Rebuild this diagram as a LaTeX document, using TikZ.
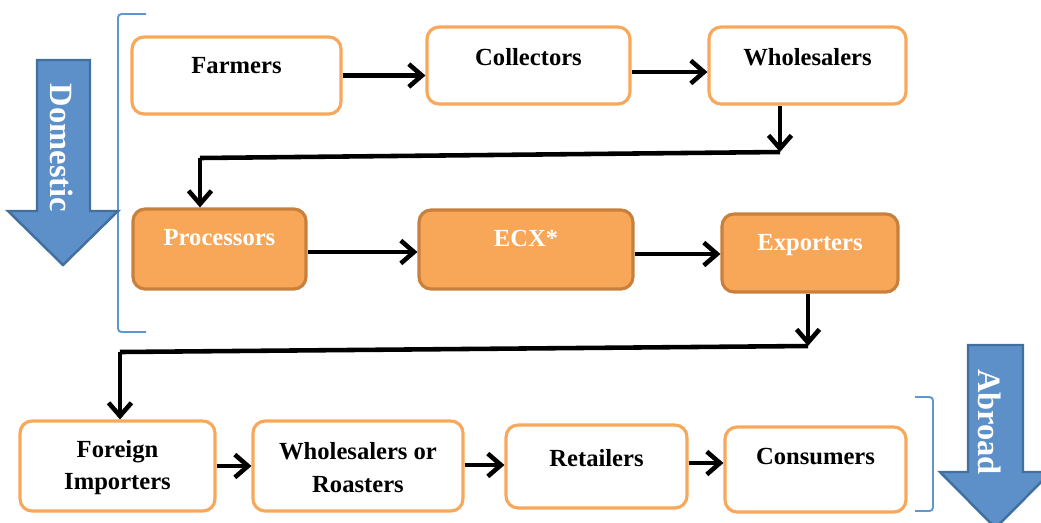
\documentclass[tikz,border=0pt]{standalone}
\usepackage{fontspec}
\setmainfont{Liberation Serif}
\usetikzlibrary{arrows.meta}

\definecolor{boxline}{RGB}{248,168,90}
\definecolor{boxfill}{RGB}{248,166,88}
\definecolor{boxdark}{RGB}{200,128,60}
\definecolor{bluefill}{RGB}{93,143,201}
\definecolor{blueline}{RGB}{66,112,158}
\definecolor{bracket}{RGB}{96,150,208}

\tikzset{
  stagebox/.style={draw=boxline, line width=1.8pt, fill=white, rounded corners=0.24cm,
    inner sep=0pt},
  hubbox/.style={draw=boxdark, line width=1.8pt, fill=boxfill, rounded corners=0.24cm,
    inner sep=0pt},
  stagetext/.style={font=\fontsize{14}{17}\selectfont\bfseries, align=center, inner sep=0pt},
  hubtext/.style={stagetext, text=white},
  conn/.style={line width=2.6pt, -{Straight Barb[length=7.5pt,width=13pt]}},
  plainconn/.style={line width=2.6pt},
  bigarrow/.style={draw=blueline, line width=1.4pt, fill=bluefill, line join=miter},
  arrowtext/.style={font=\fontsize{18.5}{22}\selectfont\bfseries, text=white, rotate=-90, inner sep=0pt},
  brace/.style={draw=bracket, line width=1.1pt, rounded corners=2pt}
}

\begin{document}
\begin{tikzpicture}[x=0.02cm, y=-0.02cm]
\useasboundingbox (0,0) rectangle (1041,522);
\clip (0,0) rectangle (1041,522);

% scope brackets
\draw[brace] (146,14) -- (118,14) -- (118,332) -- (146,332);
\draw[brace] (915,397) -- (933,397) -- (933,511) -- (915,511);

% direction arrows
\draw[bigarrow] (37,60) -- (90,60) -- (90,211) -- (118,211) -- (63,265) -- (8,211) -- (37,211) -- cycle;
\node[arrowtext] (domestic) at (62,148) {Domestic};
\draw[bigarrow] (968,345) -- (1023,345) -- (1023,472) -- (1051,472) -- (995.5,528) -- (940,472) -- (968,472) -- cycle;
\node[arrowtext] (abroad) at (990,422) {Abroad};

% domestic stages
\node[stagebox, minimum width=4.18cm, minimum height=1.54cm] (farmers) at (236.5,75.5) {};
\node[stagebox, minimum width=4.06cm, minimum height=1.54cm] (collectors) at (528.5,65.5) {};
\node[stagebox, minimum width=3.94cm, minimum height=1.54cm] (wholesalers) at (807.5,65.5) {};
\node[stagetext] (farmers-t) at (236.5,66) {Farmers};
\node[stagetext] (collectors-t) at (528.5,57) {Collectors};
\node[stagetext] (wholesalers-t) at (807.5,57) {Wholesalers};

\node[hubbox, minimum width=3.46cm, minimum height=1.6cm] (processors) at (219.5,249) {};
\node[hubbox, minimum width=4.28cm, minimum height=1.58cm] (ecx) at (526,249.5) {};
\node[hubbox, minimum width=3.52cm, minimum height=1.56cm] (exporters) at (810,253) {};
\node[hubtext] (processors-t) at (219.5,238) {Processors};
\node[hubtext] (ecx-t) at (526,238) {ECX*};
\node[hubtext] (exporters-t) at (810,245) {Exporters};

% abroad stages
\node[stagebox, minimum width=3.9cm, minimum height=1.8cm] (importers) at (117.5,466) {};
\node[stagebox, minimum width=4.2cm, minimum height=1.8cm] (roasters) at (358,466) {};
\node[stagebox, minimum width=3.62cm, minimum height=1.66cm] (retailers) at (596.5,466.5) {};
\node[stagebox, minimum width=3.62cm, minimum height=1.7cm] (consumers) at (815.5,469.5) {};
\node[stagetext] (importers-t) at (117.5,467.5) {Foreign\\[1.5pt]Importers};
\node[stagetext] (roasters-t) at (358,467.5) {Wholesalers or\\[1.5pt]Roasters};
\node[stagetext] (retailers-t) at (596.5,458) {Retailers};
\node[stagetext] (consumers-t) at (815.5,456) {Consumers};

% bends of the long connectors
\coordinate (bendA) at (780,152);
\coordinate (bendB) at (200,158);
\coordinate (bendC) at (808,346);
\coordinate (bendD) at (120,352);

% flow
\draw[conn] (farmers.east) -- (farmers.east -| collectors.west);
\draw[conn] ([yshift=-0.13cm]collectors.east) -- ([yshift=-0.13cm]collectors.east -| wholesalers.west);
\draw[conn] (wholesalers.south -| bendA) -- (bendA);
\draw[plainconn] (bendA) -- (bendB);
\draw[conn] (bendB) -- (processors.north -| bendB);

\draw[conn] ([yshift=-0.06cm]processors.east) -- ([yshift=-0.06cm]processors.east -| ecx.west);
\draw[conn] ([yshift=-0.09cm]ecx.east) -- ([yshift=-0.09cm]ecx.east -| exporters.west);
\draw[conn] (exporters.south -| bendC) -- (bendC);
\draw[plainconn] (bendC) -- (bendD);
\draw[conn] (bendD) -- (importers.north -| bendD);

\draw[conn] (importers.east) -- (importers.east -| roasters.west);
\draw[conn] ([yshift=0.02cm]roasters.east) -- ([yshift=0.02cm]roasters.east -| retailers.west);
\draw[conn] ([yshift=0.07cm]retailers.east) -- ([yshift=0.07cm]retailers.east -| consumers.west);
\end{tikzpicture}
\end{document}
